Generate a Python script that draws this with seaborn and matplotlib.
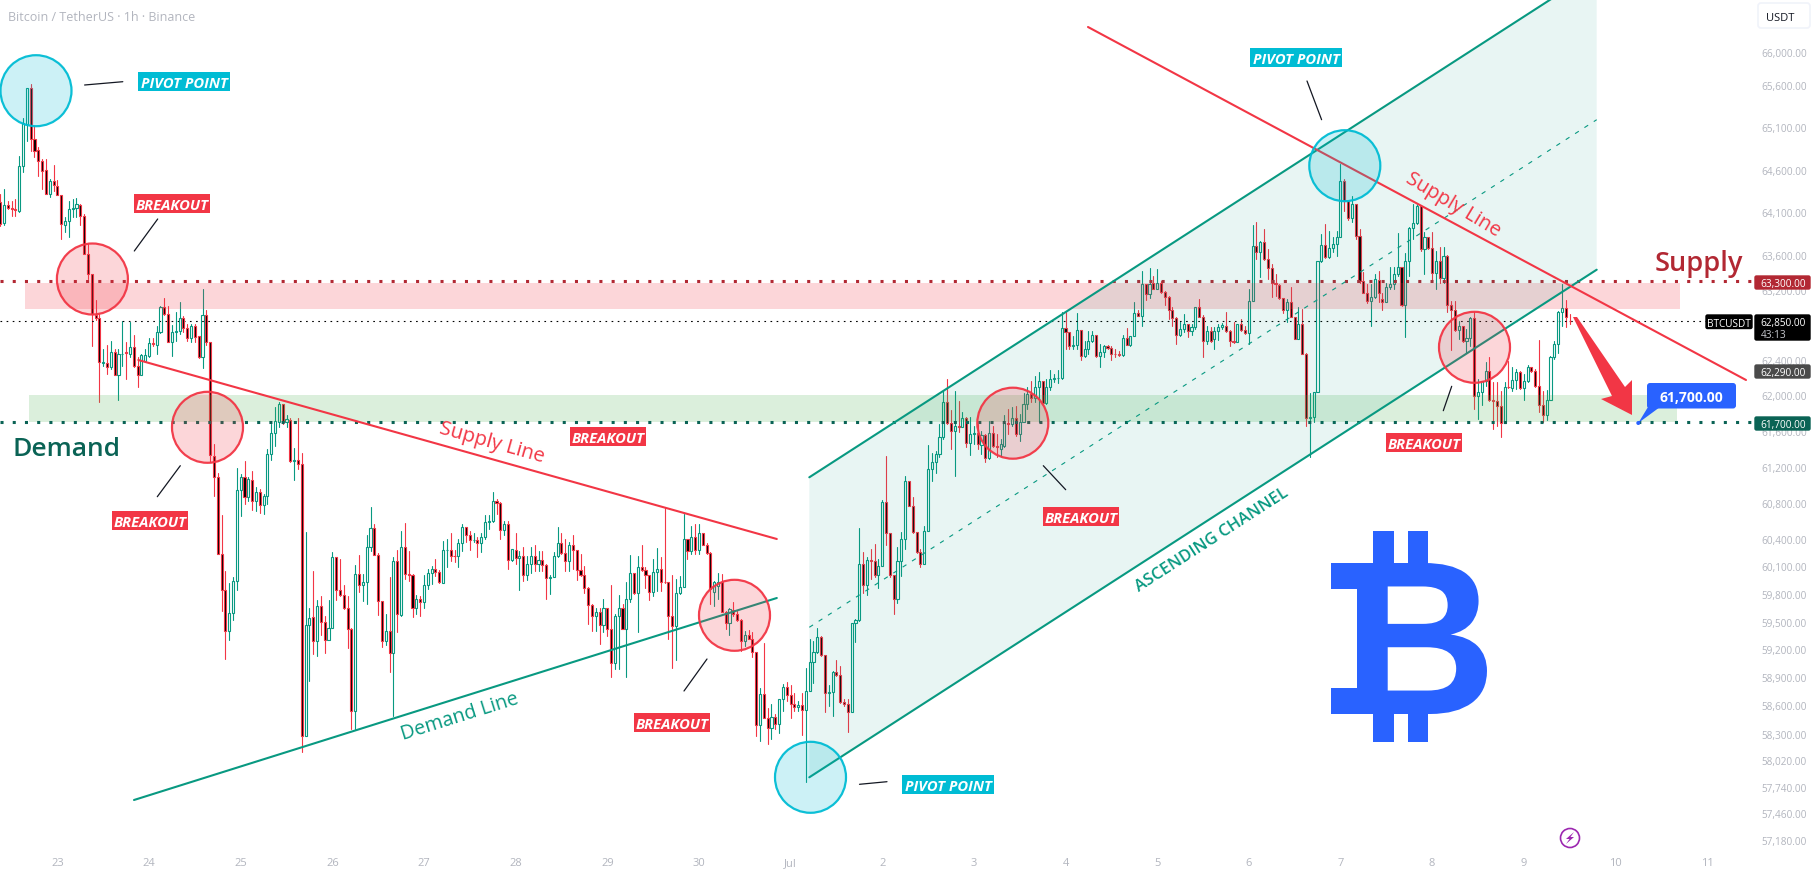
import numpy as np
import pandas as pd
import matplotlib
matplotlib.use("Agg")
import matplotlib.pyplot as plt
import seaborn as sns
from matplotlib.font_manager import FontProperties
from matplotlib.patches import Circle, Rectangle, Polygon, FancyBboxPatch, PathPatch
from matplotlib.textpath import TextPath
from matplotlib.transforms import Affine2D

# hourly candles, BTCUSDT
opens = [
    64225,63970,64190,64150,64140,64120,64640,65135,65560,64965,
    64830,64705,64595,64315,64460,64410,64305,63955,64000,64135,
    64150,64190,64055,63610,63380,62915,62880,62365,62370,62320,
    62490,62235,62465,62490,62470,62545,62335,62225,62390,62450,
    62595,62575,62715,63005,62920,62610,62715,62730,62880,62760,
    62650,62790,62670,62430,62910,62600,61320,61090,60235,59840,
    59395,59590,59945,60940,61090,60860,61050,60815,60915,60780,
    60870,61340,61580,61700,61900,61700,61725,61260,61270,61230,
    58280,59460,59545,59295,59665,59500,59305,59435,60200,59840,
    59785,59650,59415,58545,60015,59900,59935,60310,60520,60230,
    59720,59295,59395,59165,60165,59575,60310,60015,60005,59650,
    59740,59710,59900,60030,60075,60045,59920,60280,60285,60220,
    60215,60355,60530,60440,60385,60390,60355,60420,60585,60595,
    60825,60795,60500,60565,60170,60285,60190,60210,60005,60130,
    60210,60130,60175,60120,59970,59990,60210,60355,60245,60155,
    60330,60280,60060,60010,59870,59680,59560,59600,59465,59645,
    59425,59050,59560,59650,59425,59740,60030,59815,60090,60060,
    60010,59820,60045,60075,59930,59925,59560,59455,59810,59880,
    60400,60270,60420,60285,60465,60340,60245,59825,59885,59925,
    59600,59480,59625,59580,59515,59290,59355,59315,59170,58395,
    58725,58470,58360,58480,58405,58665,58800,58710,58615,58585,
    58605,58550,58755,59065,59175,59330,59135,58735,58745,58960,
    58925,58640,58610,58525,59480,59520,60130,59900,60170,60155,
    60005,60105,60805,60465,60010,59750,60160,60405,61040,60765,
    60480,60255,60130,60490,61175,61250,61340,61530,61920,61685,
    61595,61660,61650,61745,61460,61565,61575,61445,61555,61295,
    61575,61430,61400,61430,61690,61680,61745,61570,61705,61900,
    62015,61970,62100,62165,61915,62090,62185,62195,62195,62765,
    62715,62565,62575,62740,62450,62520,62615,62690,62450,62490,
    62555,62540,62470,62465,62455,62650,62570,62675,62935,62905,
    63270,63155,63280,63210,63285,63175,63125,62975,62880,62680,
    62755,62815,62730,62775,63005,62895,62620,62735,62640,62730,
    62775,62790,62730,62620,62610,62805,62745,62705,63075,63710,
    63635,63750,63560,63450,63275,63260,63105,62975,63065,62890,
    62640,62815,62470,61745,61755,62035,63530,63715,63580,63685,
    63730,63810,64470,64235,64030,64200,63820,63305,63170,63075,
    63115,63315,63095,63060,63240,63265,63390,63465,63030,63540,
    63915,63975,64170,63675,63810,63685,63395,63530,63335,63595,
    63030,62965,62745,62785,62620,62650,62880,61995,62040,62165,
    62280,61945,61935,61875,61690,62095,62085,62175,62260,62080,
    62165,62320,62275,62110,61895,61775,61950,62440,62585,62950,
    62990,62850,
]
closes = [
    63965,64190,64150,64140,64130,64640,65155,65560,64965,64820,
    64705,64585,64315,64460,64415,64305,63965,64000,64135,64150,
    64195,64055,63610,63380,62925,62880,62375,62375,62320,62490,
    62235,62470,62470,62480,62545,62335,62230,62455,62455,62590,
    62580,62715,63005,62920,62610,62715,62730,62880,62760,62650,
    62790,62660,62430,62915,62600,61330,61090,60235,59840,59395,
    59590,59945,60940,61090,60860,61060,60815,60915,60780,60870,
    61340,61580,61715,61900,61700,61735,61260,61270,61230,58280,
    59460,59540,59295,59665,59500,59305,59435,60200,59840,59785,
    59645,59415,58545,60015,59900,59935,60310,60520,60230,59720,
    59295,59395,59165,60165,59580,60310,60015,60005,59650,59740,
    59710,59900,60030,60075,60045,59925,60280,60285,60215,60210,
    60355,60530,60440,60395,60395,60355,60420,60585,60595,60825,
    60795,60500,60565,60170,60290,60190,60210,60005,60130,60210,
    60130,60175,60120,59970,59990,60210,60355,60245,60155,60330,
    60280,60060,60010,59870,59680,59560,59600,59465,59645,59425,
    59050,59560,59650,59425,59740,60030,59815,60090,60060,60010,
    59825,60045,60075,59930,59925,59560,59455,59810,59880,60400,
    60270,60420,60285,60465,60340,60245,59850,59925,59930,59600,
    59480,59635,59580,59515,59290,59355,59315,59170,58395,58725,
    58470,58360,58480,58405,58665,58800,58710,58615,58585,58605,
    58550,58755,59065,59175,59330,59135,58735,58745,58960,58925,
    58640,58610,58525,59480,59520,60130,59900,60170,60155,60005,
    60105,60805,60465,60010,59750,60160,60405,61040,60765,60480,
    60255,60130,60490,61175,61250,61340,61530,61920,61685,61595,
    61660,61650,61745,61460,61565,61575,61455,61555,61295,61575,
    61430,61425,61450,61690,61680,61745,61570,61705,61900,62015,
    61970,62100,62165,61915,62090,62185,62195,62200,62765,62715,
    62565,62575,62740,62450,62520,62615,62690,62450,62490,62555,
    62540,62470,62465,62455,62650,62570,62675,62935,62905,63270,
    63155,63270,63210,63285,63175,63125,62975,62880,62680,62755,
    62815,62730,62775,63005,62895,62620,62735,62620,62730,62775,
    62795,62730,62620,62610,62805,62745,62705,63075,63710,63635,
    63750,63560,63450,63275,63270,63105,62975,63065,62890,62640,
    62815,62470,61745,61755,62035,63530,63715,63580,63685,63730,
    63810,64470,64235,64030,64200,63820,63305,63170,63075,63115,
    63325,63170,63065,63240,63265,63390,63460,63030,63540,63915,
    63975,64170,63675,63810,63685,63395,63530,63335,63595,63030,
    62965,62745,62785,62620,62650,62880,61995,62040,62165,62280,
    61945,61935,61875,61690,62095,62090,62175,62260,62080,62165,
    62320,62275,62110,61895,61775,61950,62440,62585,62950,62990,
    62885,62840,
]
highs = [
    64310,64370,64235,64235,64255,64755,65205,65570,65610,65115,
    64860,64725,64725,64490,64650,64475,64305,64040,64235,64255,
    64265,64200,64080,63735,63380,63090,62930,62520,62570,62620,
    62525,62525,62845,62600,62835,62685,62430,62470,62520,62650,
    62650,62790,63015,63105,63020,62800,62950,63060,62900,62805,
    62805,62815,62670,63215,62965,62600,61450,61135,60665,60050,
    59915,59980,61190,61125,61260,61090,61150,60970,60950,60895,
    61395,61680,61870,61930,61900,61780,61745,61405,61745,61350,
    60475,59645,60055,59730,59775,59560,59735,60255,60200,60180,
    59895,59775,59435,60115,60225,60015,60445,60750,60565,60245,
    59720,59580,59990,60200,60280,60485,60575,60270,60015,59790,
    59780,60010,60070,60105,60180,60060,60380,60400,60465,60280,
    60400,60565,60530,60490,60470,60425,60470,60665,60665,60925,
    60840,60805,60600,60600,60290,60465,60270,60310,60215,60310,
    60330,60265,60270,60125,60005,60255,60530,60465,60400,60365,
    60440,60280,60235,60105,59875,59690,59650,59650,59750,59650,
    59895,59580,59790,59690,59925,60225,60030,60215,60335,60090,
    60010,60180,60300,60200,60755,59930,60010,59960,59995,60675,
    60400,60540,60565,60570,60465,60355,60255,59940,60030,60015,
    59615,59650,59710,59615,59525,59400,59410,59385,59170,58790,
    59265,58575,58615,58505,58670,58825,58855,58815,58735,58650,
    58735,59000,59310,59295,59435,59345,59135,58815,58970,59085,
    59025,58665,58665,59490,59530,60520,60255,60200,60290,60345,
    60180,60830,61315,60465,60010,60310,60480,61095,61045,60860,
    60480,60290,60545,61440,61350,61375,61680,62060,62185,61835,
    62050,61940,61810,61755,61755,61660,61680,61605,61565,61715,
    61660,61565,61510,61775,61845,61865,61885,61790,62025,62090,
    62165,62220,62265,62165,62185,62290,62240,62290,62950,62950,
    62715,62675,62940,62740,62620,62735,62735,62690,62585,62570,
    62570,62565,62525,62505,62685,62765,62675,63060,62965,63420,
    63270,63450,63365,63440,63305,63190,63135,63005,62890,62830,
    62920,62815,62815,63005,63095,62910,62790,62775,62775,62815,
    62825,62950,62740,62830,62815,62870,62785,63210,63950,63985,
    63770,63905,63675,63500,63385,63270,63105,63095,63230,62890,
    63005,62985,62480,62025,62035,63530,63850,63965,63885,63810,
    63885,64665,64490,64235,64295,64200,63905,63405,63270,63270,
    63385,63420,63170,63285,63460,63460,63860,63465,63630,63925,
    64200,64200,64170,63865,63810,63865,63655,63695,63695,63605,
    63075,63075,62850,62790,62755,62890,62950,62180,62165,62375,
    62440,62150,62150,62050,62155,62385,62325,62300,62280,62240,
    62345,62325,62300,62630,62050,62060,62450,62620,62960,63270,
    63085,62930,
]
lows = [
    63945,63955,64140,64060,64060,64100,64575,64940,64820,64745,
    64520,64370,64310,64275,64350,64300,63790,63875,63815,64040,
    64040,63955,63610,63325,62565,62860,61930,62335,62240,62300,
    62230,61950,62335,62185,62430,62320,62100,62225,62375,62440,
    62565,62470,62705,62915,62600,62450,62620,62700,62715,62620,
    62600,62600,62420,62315,62575,61250,60875,60235,59615,59100,
    59305,59520,59845,60655,60785,60820,60720,60710,60685,60675,
    60785,61270,61430,61650,61675,61640,61250,61055,61175,58105,
    58280,58860,59150,59130,59355,59160,59305,59435,59735,59780,
    59635,59210,58345,58345,59825,59725,59690,60270,60225,59570,
    59225,59245,58955,58485,59385,59560,59960,59940,59550,59580,
    59560,59650,59850,59905,59995,59915,59915,60090,60160,60145,
    60090,60270,60365,60280,60365,60200,60255,60400,60510,60585,
    60675,60400,60440,60070,60160,60125,59845,59940,59950,60030,
    60050,60050,60050,59745,59800,59990,60200,60235,60050,60050,
    60070,59950,59995,59815,59470,59400,59400,59260,59385,59345,
    58900,58990,58985,59425,58900,59710,59800,59385,60050,59870,
    59735,59775,59835,59835,59920,59310,58995,59085,59800,59880,
    60180,60235,60235,60235,60335,60235,59690,59670,59745,59600,
    59420,59355,59560,59505,59185,59235,59310,59115,58275,58220,
    58470,58190,58240,58345,58310,58540,58650,58470,58540,58540,
    58290,57790,58750,58840,59165,59130,58530,58595,58485,58915,
    58630,58595,58315,58525,59275,59505,59815,59785,59960,59980,
    59860,60105,60330,59980,59580,59700,60000,60290,60765,60470,
    60245,60095,60130,60490,61040,61135,61305,61510,61680,61395,
    61095,61585,61645,61415,61330,61455,61395,61340,61250,61285,
    61415,61305,61315,61415,61565,61660,61540,61490,61700,61845,
    61920,61920,61695,61915,61900,62060,62150,62140,62185,62525,
    62520,62520,62525,62395,62430,62465,62600,62430,62325,62430,
    62525,62400,62430,62450,62450,62570,62565,62675,62905,62790,
    63085,63105,63210,63210,63165,63025,62870,62790,62585,62675,
    62715,62660,62680,62755,62890,62430,62585,62610,62530,62630,
    62755,62715,62565,62590,62600,62735,62695,62585,63075,63560,
    63345,63550,63325,63115,63135,63095,62935,62830,62890,62640,
    62640,62470,61660,61305,61705,62035,63520,63565,63565,63635,
    63595,63810,64120,64015,63990,63790,63285,63165,63050,62790,
    63105,63060,62965,63060,63210,63210,63360,63020,62665,63360,
    63790,63965,63655,63385,63675,63305,63210,63285,63280,62950,
    62515,62735,62640,62600,62480,62565,61845,61735,61890,62110,
    61940,61620,61660,61535,61690,62085,62050,62075,62070,61950,
    62155,62260,62100,61810,61695,61725,61950,62410,62480,62785,
    62775,62815,
]

price_ticks = [66000, 65600, 65100, 64600, 64100, 63600, 63200, 62800, 62400, 62000, 61600,
               61200, 60800, 60400, 60100, 59800, 59500, 59200, 58900, 58600, 58300,
               58020, 57740, 57460, 57180]
day_labels = ["23", "24", "25", "26", "27", "28", "29", "30", "Jul", "2", "3", "4", "5",
              "6", "7", "8", "9", "10", "11"]

supply_level = 63300
demand_level = 61700
last_price = 62850
supply_zone = (62985, 63280)
demand_zone = (61700, 62000)

GREEN = "#089981"
RED = "#f23645"
CYAN = "#00bcd4"
BLUE = "#2962ff"
DARK_RED = "#b22833"
DARK_GREEN = "#0a6355"
GREY = "#b2b5be"

sns.set_theme(style="white")
plt.rcParams["font.family"] = ["Open Sans", "DejaVu Sans"]

W, H = 1815, 878
fig = plt.figure(figsize=(W / 100, H / 100), dpi=100)

# price pane, log scale like the original
ax = fig.add_axes([0, (H - 850) / H, 1754 / W, 850 / H])
ax.set_yscale("log")

hours = np.arange(len(opens))
df = pd.DataFrame({"hour": hours, "open": opens, "close": closes, "high": highs, "low": lows})
df["top"] = df[["open", "close"]].max(axis=1)
df["bot"] = df[["open", "close"]].min(axis=1)
df["dir"] = np.where(df["close"] >= df["open"], "up", "down")

# wicks stop at the body, the green bodies are hollow
upper = df[["hour", "dir"]].assign(p1=df["top"], p2=df["high"], seg=hours)
lower = df[["hour", "dir"]].assign(p1=df["low"], p2=df["bot"], seg=hours + len(df))
segs = pd.concat([upper, lower]).melt(id_vars=["hour", "dir", "seg"], value_vars=["p1", "p2"], value_name="price")
sns.lineplot(data=segs, x="hour", y="price", units="seg", estimator=None, hue="dir",
             palette={"up": GREEN, "down": RED}, linewidth=0.8, legend=False, sort=False, ax=ax)

up = df[df["dir"] == "up"]
down = df[df["dir"] == "down"]
ax.bar(up["hour"], up["top"] - up["bot"], bottom=up["bot"], width=0.55,
       facecolor="none", edgecolor=GREEN, linewidth=0.8, zorder=3)
ax.bar(down["hour"], down["top"] - down["bot"], bottom=down["bot"], width=0.55,
       facecolor="black", edgecolor=RED, linewidth=0.8, zorder=3)

ax.fill_between([6.5, 439.9], *supply_zone, color=RED, alpha=0.2, linewidth=0, zorder=5)
ax.fill_between([7.56, 439.1], *demand_zone, color="#4caf50", alpha=0.2, linewidth=0, zorder=5)
ax.axhline(supply_level, color=DARK_RED, lw=2.2, ls=(0, (1, 3)), dash_capstyle="butt", zorder=6)
ax.axhline(demand_level, color=DARK_GREEN, lw=2.2, ls=(0, (1, 3)), dash_capstyle="butt", zorder=6)
ax.axhline(last_price, color="black", lw=0.8, ls=(0, (1.5, 4)), zorder=2)

ax.set_xlim(-0.03, 459.3)
ax.set_ylim(57089, 66636)
ax.yaxis.tick_right()
ax.set_yticks(price_ticks)
ax.set_yticklabels([f"{p:,.2f}" for p in price_ticks])
ax.yaxis.set_minor_locator(plt.NullLocator())
ax.set_xticks(15 + 24 * np.arange(len(day_labels)))
ax.set_xticklabels(day_labels)
ax.tick_params(axis="y", length=0, pad=5, labelsize=7.2, labelcolor=GREY)
ax.tick_params(axis="x", length=0, pad=6, labelsize=8, labelcolor=GREY)
ax.set_xlabel("")
ax.set_ylabel("")
sns.despine(ax=ax, left=True, bottom=True, right=True, top=True)

# drawings on top, in picture pixels
ov = fig.add_axes([0, 0, 1, 1], facecolor="none")
ov.set_xlim(0, W)
ov.set_ylim(H, 0)
ov.axis("off")


def tag(x0, y0, x1, y1, text, color):
    ov.add_patch(Rectangle((x0, y0), x1 - x0, y1 - y0, color=color, lw=0, zorder=8))
    ov.text((x0 + x1) / 2, (y0 + y1) / 2, text, color="white", fontsize=10.6, fontweight="bold",
            fontstyle="italic", ha="center", va="center_baseline", zorder=9)


def ring(cx, cy, color):
    ov.add_patch(Circle((cx, cy), 35.5, facecolor=color, alpha=0.2, lw=0, zorder=4))
    ov.add_patch(Circle((cx, cy), 35.5, facecolor="none", edgecolor=color, lw=1.6, alpha=0.95, zorder=4))


def price_tag(y0, y1, text, color):
    ov.add_patch(FancyBboxPatch((1755, y0 + 1), 55, y1 - y0 - 2, boxstyle="round,pad=0,rounding_size=1.5",
                                facecolor=color, edgecolor=color, lw=1, zorder=8))
    ov.text(1783, (y0 + y1) / 2, text, color="white", fontsize=7.2, ha="center",
            va="center_baseline", zorder=9)


# channel
ch_x0, ch_x1 = 809.3, 1596.7
ov.fill([ch_x0, ch_x1, ch_x1, ch_x0], [778.3, 270.7, -29.3, 478.3], color=GREEN, alpha=0.09, lw=0, zorder=1)
ov.plot([ch_x0, ch_x1], [778.3, 270.7], color=GREEN, lw=1.5, zorder=3)
ov.plot([ch_x0, ch_x1], [478.3, -29.3], color=GREEN, lw=1.5, zorder=3)
ov.plot([ch_x0, ch_x1], [628.3, 120.7], color=GREEN, lw=0.8, ls=(0, (4, 6)), zorder=3)

# trend lines
ov.plot([138.3, 776.8], [361, 540], color=RED, lw=1.5, zorder=3)
ov.plot([134, 776.8], [801, 599], color=GREEN, lw=1.5, zorder=3)
ov.plot([1088, 1746], [28, 381], color=RED, lw=1.5, zorder=3)

ov.text(492, 443, "Supply Line", color=RED, fontsize=14.6, fontweight="medium", rotation=-15.7,
        ha="center", va="center", rotation_mode="anchor")
ov.text(460, 717, "Demand Line", color=GREEN, fontsize=14.2, fontweight="medium", rotation=17.4,
        ha="center", va="center", rotation_mode="anchor")
ov.text(1453, 205, "Supply Line", color=RED, fontsize=14.4, fontweight="medium", rotation=-31,
        ha="center", va="center", rotation_mode="anchor")
ov.text(1212, 540, "ASCENDING CHANNEL", color=GREEN, fontsize=12, fontweight="semibold", rotation=32.8,
        ha="center", va="center", rotation_mode="anchor")
ov.text(13, 447, "Demand", color=DARK_GREEN, fontsize=19, fontweight="semibold", ha="left", va="center_baseline")
ov.text(1655, 261, "Supply", color=DARK_RED, fontsize=19.5, fontweight="semibold", ha="left", va="center_baseline")

for cx, cy in [(36, 91.7), (810.5, 778.3), (1344.8, 166.7)]:
    ring(cx, cy, CYAN)
for cx, cy in [(92.4, 280), (207.5, 428.3), (734.5, 616.3), (1012.8, 424.2), (1474.5, 348.3)]:
    ring(cx, cy, RED)

pointers = [((84.6, 86), (122.8, 82.7)), ((134.3, 252), (157.7, 220)), ((157.3, 497.7), (180.3, 466.7)),
            ((684, 692), (707, 660)), ((859.5, 785.3), (887, 782.7)), ((1043.3, 466.7), (1065.7, 490.7)),
            ((1307, 82), (1321.6, 120.7)), ((1443.3, 411.7), (1451.7, 387.3))]
for a, b in pointers:
    ov.plot([a[0], b[0]], [a[1], b[1]], color="#131722", lw=0.9, zorder=7)

tag(138, 73, 230, 92, "PIVOT POINT", CYAN)
tag(902, 776, 994, 795, "PIVOT POINT", CYAN)
tag(1250, 49, 1342, 68, "PIVOT POINT", CYAN)
tag(134, 195, 210, 214, "BREAKOUT", RED)
tag(112, 512, 188, 530.7, "BREAKOUT", RED)
tag(570, 428, 646, 447, "BREAKOUT", RED)
tag(634, 714, 710, 733, "BREAKOUT", RED)
tag(1043, 508.3, 1119, 526.7, "BREAKOUT", RED)
tag(1386, 434, 1462, 452.7, "BREAKOUT", RED)

# down arrow and target callout
ov.add_patch(Polygon([(1573, 318), (1577, 318), (1625, 388), (1632, 381), (1632, 416), (1601, 400), (1612, 397)],
                     color=RED, lw=0, zorder=7))
ov.add_patch(Polygon([(1648, 408), (1638.3, 424), (1660, 408)], color=BLUE, lw=0, zorder=7))
ov.add_patch(Circle((1638.3, 424), 2, color=BLUE, lw=0, zorder=7))
ov.add_patch(FancyBboxPatch((1648, 385), 87, 23.5, boxstyle="round,pad=1,rounding_size=3",
                            facecolor=BLUE, edgecolor=BLUE, lw=0, zorder=7))
ov.text(1691.5, 397, "61,700.00", color="white", fontsize=10, fontweight="bold", ha="center",
        va="center_baseline", zorder=8)

# bitcoin mark: bold B stretched to size, slabs and bars added
b_path = TextPath((0, 0), "B", size=100, prop=FontProperties(family="Liberation Sans", weight="bold"))
bb = b_path.get_extents()
fit = Affine2D().translate(-bb.x0, -bb.y0).scale(130 / bb.width, -151 / bb.height).translate(1357, 715)
ov.add_patch(PathPatch(b_path, facecolor=BLUE, lw=0, transform=fit + ov.transData, zorder=2))
for x0, y0, w, h in [(1331, 564, 30, 26), (1331, 689, 30, 26), (1373, 532, 21, 34), (1408, 532, 20, 34),
                     (1373, 713, 21, 30), (1408, 713, 20, 30)]:
    ov.add_patch(Rectangle((x0, y0), w, h, color=BLUE, lw=0, zorder=2))

# lightning badge
ov.add_patch(Circle((1570, 839), 9.5, facecolor="white", edgecolor="#9c27b0", lw=1.2, zorder=3))
ov.add_patch(Polygon([(1574, 833), (1566, 840), (1569.5, 840), (1566, 845), (1574, 838), (1570.5, 838)],
                     color="#9c27b0", lw=0, zorder=4))

# header and right scale tags
ov.text(8, 16, "Bitcoin / TetherUS · 1h · Binance", color=GREY, fontsize=9, ha="left", va="center_baseline")
ov.add_patch(FancyBboxPatch((1758, 4), 52, 25, boxstyle="round,pad=0,rounding_size=3",
                            facecolor="white", edgecolor="#f0f3fa", lw=1.2))
ov.text(1766, 17, "USDT", color="#131722", fontsize=8, ha="left", va="center_baseline")

price_tag(276, 291, "63,300.00", DARK_RED)
price_tag(365, 380, "62,290.00", "#4a4a4a")
price_tag(417, 432, "61,700.00", DARK_GREEN)
ov.add_patch(FancyBboxPatch((1755, 316), 55, 25, boxstyle="round,pad=0,rounding_size=1.5",
                            facecolor="black", edgecolor="black", lw=1, zorder=8))
ov.text(1783, 322, "62,850.00", color="white", fontsize=7.2, ha="center", va="center_baseline", zorder=9)
ov.text(1761, 334, "43:13", color="#c8cad0", fontsize=7.2, ha="left", va="center_baseline", zorder=9)
ov.add_patch(FancyBboxPatch((1706, 316), 46, 13.5, boxstyle="round,pad=0,rounding_size=1.5",
                            facecolor="black", edgecolor="black", lw=1, zorder=8))
ov.text(1729, 323, "BTCUSDT", color="white", fontsize=7.2, ha="center", va="center_baseline", zorder=9)

fig.savefig("out.png", dpi=100, facecolor="white")
